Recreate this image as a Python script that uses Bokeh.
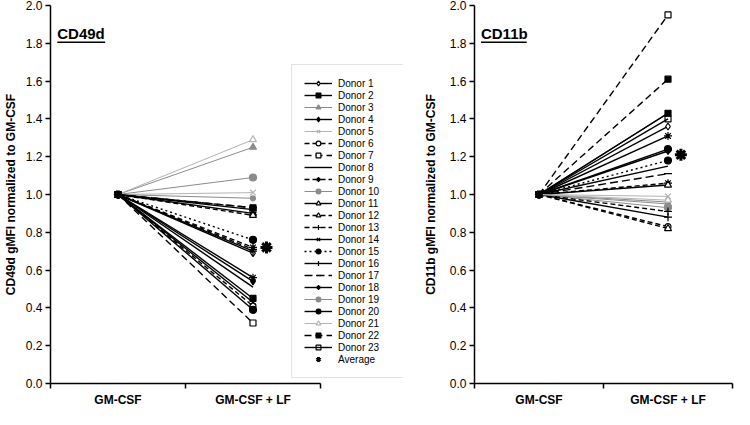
from bokeh.plotting import figure
from bokeh.models import (Range1d, FixedTicker, PrintfTickFormatter, CustomJSTickFormatter,
                          Legend, LegendItem, Label, BoxAnnotation)
from bokeh.layouts import row
from bokeh.embed import file_html
from bokeh.resources import INLINE

# ---------------- data ----------------
categories = ["GM-CSF", "GM-CSF + LF"]
donors = ["Donor 1", "Donor 2", "Donor 3", "Donor 4", "Donor 5", "Donor 6", "Donor 7",
          "Donor 8", "Donor 9", "Donor 10", "Donor 11", "Donor 12", "Donor 13", "Donor 14",
          "Donor 15", "Donor 16", "Donor 17", "Donor 18", "Donor 19", "Donor 20", "Donor 21",
          "Donor 22", "Donor 23"]

cd49d_gmcsf = [1.0, 1.0, 1.0, 1.0, 1.0, 1.0, 1.0, 1.0, 1.0, 1.0, 1.0, 1.0,
               1.0, 1.0, 1.0, 1.0, 1.0, 1.0, 1.0, 1.0, 1.0, 1.0, 1.0]
cd49d_lf = [0.69, 0.45, 1.25, 0.54, 1.01, 0.41, 0.32, 0.51, 0.72, 1.09, 0.90, 0.89,
            0.71, 0.43, 0.76, 0.70, 0.93, 0.56, 0.98, 0.39, 1.29, 0.93, 0.92]
cd49d_avg = [0.72]

cd11b_gmcsf = [1.0, 1.0, 1.0, 1.0, 1.0, 1.0, 1.0, 1.0, 1.0, 1.0, 1.0, 1.0,
               1.0, 1.0, 1.0, 1.0, 1.0, 1.0, 1.0, 1.0, 1.0, 1.0, 1.0]
cd11b_lf = [1.36, 1.43, 0.95, 1.23, 0.99, 0.83, 1.95, 1.15, 1.06, 0.93, 1.05, 0.82,
            0.91, 1.43, 1.18, 0.88, 1.11, 1.31, 0.96, 1.24, 0.97, 1.61, 1.40]
cd11b_avg = [1.21]

y_ticks = [0.0, 0.2, 0.4, 0.6, 0.8, 1.0, 1.2, 1.4, 1.6, 1.8, 2.0]
panel_titles = ["CD49d", "CD11b"]
y_labels = ["CD49d gMFI normalized to GM-CSF", "CD11b gMFI normalized to GM-CSF"]

# ---------------- styles ----------------
BLACK = "#000000"
GRAY = "#8c8c8c"
LGRAY = "#b4b4b4"
markers = ["diamond", "square", "triangle", "diamond", "x", "circle", "square", None,
           "asterisk", "circle", "triangle", "triangle", "cross", "x", "circle", "cross",
           "dash", "asterisk", "circle", "circle", "triangle", "square", "square"]
colors = [BLACK, BLACK, GRAY, BLACK, LGRAY, BLACK, BLACK, BLACK, BLACK, GRAY, BLACK, BLACK,
          BLACK, BLACK, BLACK, BLACK, BLACK, BLACK, GRAY, BLACK, LGRAY, BLACK, BLACK]
fills = ["white", BLACK, GRAY, BLACK, None, "white", "white", None, None, GRAY, "white",
         "white", None, None, BLACK, None, None, None, GRAY, BLACK, "white", BLACK, None]
dashes = ["solid", "solid", "solid", "solid", "solid", "5 3", "7 4", "solid", "5 3",
          "solid", "solid", "5 3", "5 3", "solid", "2 3", "solid", "8 4", "solid", "solid",
          "solid", "solid", "7 4", "solid"]
sizes = [7, 6, 7, 7, 8, 6, 6, 0, 8, 7, 7, 7, 8, 8, 7, 8, 8, 8, 5, 7, 7, 6, 6]

FONT = "Liberation Sans"
avg_offset = 0.1


def make_panel(idx, gm, lf, avg, width, x_end, border_left, border_right, label_standoff):
    p = figure(width=width, height=409, x_range=Range1d(0, x_end), y_range=Range1d(0, 2),
               output_backend="svg", toolbar_location=None,
               min_border_left=border_left, min_border_right=border_right,
               min_border_top=5, min_border_bottom=21,
               outline_line_color=None, background_fill_color="white",
               border_fill_color="white")
    p.grid.visible = False

    # x axis: category labels centered, ticks at the boundaries
    xa = p.xaxis[0]
    xa.bounds = (0, 2)
    xa.ticker = FixedTicker(ticks=[0.5, 1.5], minor_ticks=[0.0, 1.0, 2.0])
    xa.formatter = CustomJSTickFormatter(args=dict(labels=categories),
                                         code="return labels[Math.round(tick - 0.5)];")
    xa.major_tick_out = 0
    xa.major_tick_in = 0
    xa.minor_tick_out = 5
    xa.minor_tick_in = 0
    xa.minor_tick_line_color = BLACK
    xa.minor_tick_line_width = 1.5
    xa.axis_line_width = 1.5
    xa.axis_line_color = BLACK
    xa.major_label_text_font = FONT
    xa.major_label_text_font_style = "bold"
    xa.major_label_text_font_size = "12px"
    xa.major_label_text_color = BLACK
    xa.major_label_standoff = 4

    ya = p.yaxis[0]
    ya.ticker = FixedTicker(ticks=y_ticks, minor_ticks=[])
    ya.formatter = PrintfTickFormatter(format="%.1f")
    ya.major_tick_out = 5
    ya.major_tick_in = 0
    ya.major_tick_line_width = 1.5
    ya.axis_line_width = 1.5
    ya.axis_line_color = BLACK
    ya.major_label_text_font = FONT
    ya.major_label_text_font_size = "12px"
    ya.major_label_text_color = BLACK
    ya.major_label_standoff = 3
    ya.axis_label = y_labels[idx]
    ya.axis_label_text_font = FONT
    ya.axis_label_text_font_style = "bold"
    ya.axis_label_text_font_size = "12px"
    ya.axis_label_text_color = BLACK
    ya.axis_label_standoff = label_standoff

    x_pos = [0.5, 1.5]
    items = []
    for i in range(len(donors)):
        ys = [gm[i], lf[i]]
        lw = 1.0 if colors[i] != BLACK else 1.4
        lr = p.line(x_pos, ys, line_color=colors[i], line_width=lw, line_dash=dashes[i])
        rends = [lr]
        if markers[i] is not None:
            fc = fills[i] if fills[i] is not None else colors[i]
            fa = 1.0 if fills[i] is not None else 0.0
            sr = p.scatter(x_pos, ys, marker=markers[i], size=sizes[i],
                           line_color=colors[i], line_width=1.2,
                           fill_color=fc, fill_alpha=fa)
            rends.append(sr)
        items.append(LegendItem(label=donors[i], renderers=rends))

    ar = p.scatter([x_pos[1] + avg_offset], avg, marker="asterisk", size=12,
                   line_color=BLACK, line_width=3)
    items.append(LegendItem(label="Average", renderers=[ar]))

    # panel title with underline
    title_y = 1.853
    p.add_layout(Label(x=0.05, y=title_y, text=panel_titles[idx], text_font=FONT,
                       text_font_style="bold", text_font_size="15px",
                       text_color=BLACK, text_baseline="alphabetic"))
    p.add_layout(BoxAnnotation(left=0.05, right=0.405, bottom=title_y - 0.052,
                               top=title_y - 0.044, fill_color=BLACK, fill_alpha=1.0,
                               line_color=None))
    return p, items


# left frame extends past the category axis so that the legend is not clipped
p1, items1 = make_panel(0, cd49d_gmcsf, cd49d_lf, cd49d_avg, 420, 2.615, 50, 17, 5)
p2, _ = make_panel(1, cd11b_gmcsf, cd11b_lf, cd11b_avg, 314, 2.0, 50, 2, 9)

legend = Legend(items=items1, location=(241, 5), padding=12, spacing=0,
                glyph_width=28, glyph_height=12, label_height=12, label_width=54,
                label_standoff=6, label_text_font=FONT, label_text_font_size="10px",
                label_text_color=BLACK, border_line_color="#c8c8c8", border_line_width=1,
                background_fill_color="white", background_fill_alpha=1.0, margin=0)
p1.add_layout(legend)

layout = row(p1, p2)
open("out.html", "w").write(file_html(layout, INLINE))
